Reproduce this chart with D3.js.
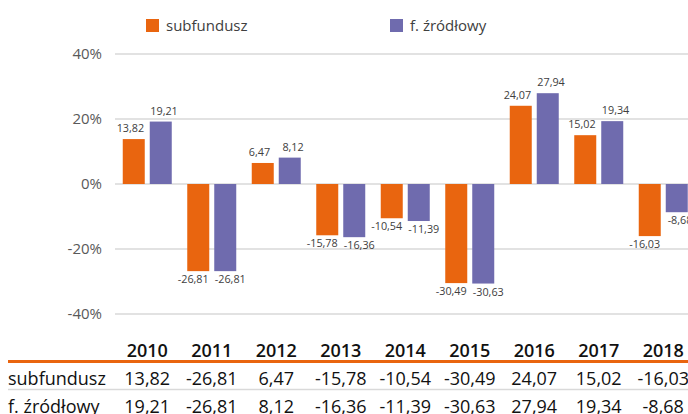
<!DOCTYPE html>
<html>
<head>
<meta charset="utf-8">
<script src="https://cdn.jsdelivr.net/npm/d3@7"></script>
<style>
  html, body { margin: 0; padding: 0; background: #fff; overflow: hidden; }
  svg { display: block; font-family: "Open Sans", sans-serif; }
</style>
</head>
<body>
<div id="chart"></div>
<script>
const years = ["2010", "2011", "2012", "2013", "2014", "2015", "2016", "2017", "2018"];
const seriesNames = ["subfundusz", "f. źródłowy"];
const subfundusz = [13.82, -26.81, 6.47, -15.78, -10.54, -30.49, 24.07, 15.02, -16.03];
const zrodlowy = [19.21, -26.81, 8.12, -16.36, -11.39, -30.63, 27.94, 19.34, -8.68];
const yTicks = [-40, -20, 0, 20, 40];
const colors = ["#e9650f", "#6f6bae"];

const width = 688, height = 414;
// polish decimal comma, plain hyphen for minus
const fmt = v => (v < 0 ? "-" : "") + Math.abs(v).toFixed(2).replace(".", ",");

const svg = d3.select("#chart").append("svg")
  .attr("width", width)
  .attr("height", height);

const x = d3.scaleBand()
  .domain(years)
  .range([115, 695.5]);

const xs = d3.scaleBand()
  .domain(seriesNames)
  .range([7.75, 56.75])
  .paddingInner(0.1852);

const y = d3.scaleLinear()
  .domain([-40, 40])
  .range([314, 54]);

// gridlines + y labels
svg.append("g")
  .selectAll("line")
  .data(yTicks)
  .join("line")
  .attr("x1", 115)
  .attr("x2", width)
  .attr("y1", d => y(d))
  .attr("y2", d => y(d))
  .attr("stroke", "#d9d9d9")
  .attr("stroke-width", 1.5);

svg.append("g")
  .selectAll("text")
  .data(yTicks)
  .join("text")
  .attr("x", 102)
  .attr("y", d => y(d))
  .attr("dy", "0.35em")
  .attr("text-anchor", "end")
  .attr("fill", "#595959")
  .style("font-size", "15px")
  .text(d => d + "%");

// bars
const seriesData = [subfundusz, zrodlowy];
seriesData.forEach((vals, si) => {
  const g = svg.append("g");
  const rows = years.map((yr, i) => ({ yr, v: vals[i] }));
  const side = si === 0 ? -1 : 1; // labels pushed slightly apart
  g.selectAll("rect")
    .data(rows)
    .join("rect")
    .attr("x", d => x(d.yr) + xs(seriesNames[si]))
    .attr("width", xs.bandwidth())
    .attr("y", d => y(Math.max(0, d.v)))
    .attr("height", d => Math.abs(y(d.v) - y(0)))
    .attr("fill", colors[si]);

  g.selectAll("text")
    .data(rows)
    .join("text")
    .attr("x", d => x(d.yr) + xs(seriesNames[si]) + xs.bandwidth() / 2)
    .attr("dx", d => side * (d.v <= -10 ? 5 : 3.3))
    .attr("y", d => d.v >= 0 ? y(d.v) - 7 : y(d.v) + 12)
    .attr("text-anchor", "middle")
    .attr("fill", "#404040")
    .style("font-size", "10.8px")
    .text(d => fmt(d.v));
});

// legend
const legend = svg.append("g");
const legendX = [146, 390];
seriesNames.forEach((name, i) => {
  legend.append("rect")
    .attr("x", legendX[i])
    .attr("y", 19)
    .attr("width", 13)
    .attr("height", 13)
    .attr("fill", colors[i]);
  legend.append("text")
    .attr("x", legendX[i] + 20)
    .attr("y", 26)
    .attr("dy", "0.35em")
    .attr("fill", "#404040")
    .style("font-size", "15px")
    .text(name);
});

// data table
const table = svg.append("g");
table.selectAll(".hdr")
  .data(years)
  .join("text")
  .attr("class", "hdr")
  .attr("x", d => x(d) + x.bandwidth() / 2)
  .attr("y", 356.5)
  .attr("text-anchor", "middle")
  .attr("fill", "#111")
  .style("font-size", "18px")
  .style("font-weight", "600")
  .text(d => d);

table.append("line")
  .attr("x1", 8).attr("x2", width)
  .attr("y1", 361.5).attr("y2", 361.5)
  .attr("stroke", colors[0])
  .attr("stroke-width", 3);

table.append("line")
  .attr("x1", 8).attr("x2", width)
  .attr("y1", 389.5).attr("y2", 389.5)
  .attr("stroke", "#d9d9d9")
  .attr("stroke-width", 1.5);

const rowBase = [385, 413];
seriesData.forEach((vals, si) => {
  table.append("text")
    .attr("x", 8)
    .attr("y", rowBase[si])
    .attr("fill", "#111")
    .style("font-size", "18px")
    .text(seriesNames[si]);
  table.selectAll(".row" + si)
    .data(years.map((yr, i) => ({ yr, v: vals[i] })))
    .join("text")
    .attr("class", "row" + si)
    .attr("x", d => x(d.yr) + x.bandwidth() / 2)
    .attr("y", rowBase[si])
    .attr("text-anchor", "middle")
    .attr("fill", "#111")
    .style("font-size", "18px")
    .text(d => fmt(d.v));
});
</script>
</body>
</html>
